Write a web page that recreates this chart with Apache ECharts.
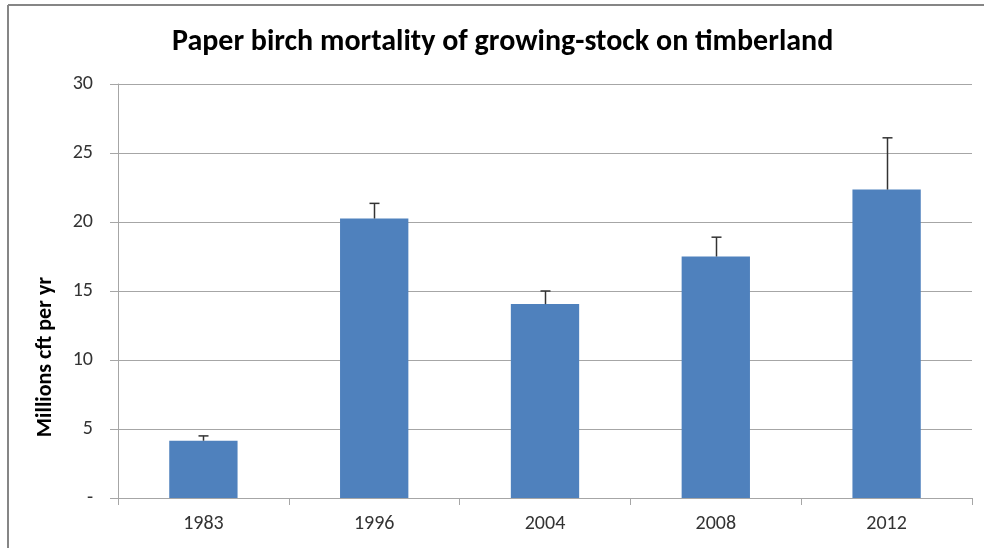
<!DOCTYPE html>
<html>
<head>
<meta charset="utf-8">
<script src="https://cdn.jsdelivr.net/npm/echarts@6/dist/echarts.min.js"></script>
<style>
html, body { margin: 0; padding: 0; background: #fff; }
#chart { width: 984px; height: 548px; }
</style>
</head>
<body>
<div id="chart"></div>
<script>
var years = ['1983', '1996', '2004', '2008', '2012'];
var mortality = [4.15, 20.25, 14.05, 17.5, 22.35];
var errorTop = [4.5, 21.35, 15.0, 18.9, 26.1];
var yTicks = [0, 5, 10, 15, 20, 25, 30];

var chart = echarts.init(document.getElementById('chart'));
var font = 'Carlito, Lato, sans-serif';

var option = {
    backgroundColor: '#fff',
    animation: false,
    title: {
        text: 'Paper birch mortality of growing-stock on timberland',
        left: 167,
        top: 22,
        textStyle: { fontFamily: font, fontSize: 30, fontWeight: 'bold', color: '#000' }
    },
    graphic: [
        { type: 'line', shape: { x1: 8, y1: 5, x2: 984, y2: 5 }, style: { stroke: '#868686', lineWidth: 2 } },
        { type: 'line', shape: { x1: 8, y1: 5, x2: 8, y2: 548 }, style: { stroke: '#868686', lineWidth: 2 } },
        // axis title sits lower than the axis middle, as in the original
        {
            type: 'text', x: 45, y: 357, rotation: Math.PI / 2,
            style: {
                text: 'Millions cft per yr', fontFamily: font, fontSize: 22, fontWeight: 'bold',
                fill: '#000', align: 'center', verticalAlign: 'middle'
            }
        }
    ],
    grid: { left: 118, right: 12, top: 84, bottom: 50 },
    xAxis: {
        type: 'category',
        data: years,
        axisLine: { lineStyle: { color: '#a6a6a6', width: 1 } },
        axisTick: { show: true, length: 7, lineStyle: { color: '#a6a6a6' } },
        axisLabel: { fontFamily: font, fontSize: 20, color: '#333', margin: 16 }
    },
    yAxis: {
        type: 'value',
        min: 0,
        max: 30,
        interval: 5,
        axisLine: { show: true, lineStyle: { color: '#a6a6a6' } },
        axisTick: { show: true, length: 8, lineStyle: { color: '#a6a6a6' } },
        splitLine: { lineStyle: { color: '#a6a6a6' } },
        axisLabel: {
            fontFamily: font, fontSize: 20, color: '#333', margin: 25,
            formatter: function (v) { return yTicks.indexOf(v) === 0 ? '-' : String(v); }
        }
    },
    series: [
        {
            type: 'bar',
            data: mortality,
            barWidth: '40%',
            itemStyle: { color: '#4f81bd' }
        },
        {
            type: 'custom',
            data: years.map(function (y, i) { return [i, mortality[i], errorTop[i]]; }),
            z: 5,
            renderItem: function (params, api) {
                var base = api.coord([api.value(0), api.value(1)]);
                var top = api.coord([api.value(0), api.value(2)]);
                var x = Math.round(base[0]) + 0.5;
                var style = { stroke: '#333', lineWidth: 1.5 };
                return {
                    type: 'group',
                    children: [
                        { type: 'line', shape: { x1: x, y1: base[1], x2: x, y2: top[1] }, style: style },
                        { type: 'line', shape: { x1: x - 5, y1: top[1], x2: x + 5, y2: top[1] }, style: style }
                    ]
                };
            }
        }
    ]
};
chart.setOption(option);
</script>
</body>
</html>
